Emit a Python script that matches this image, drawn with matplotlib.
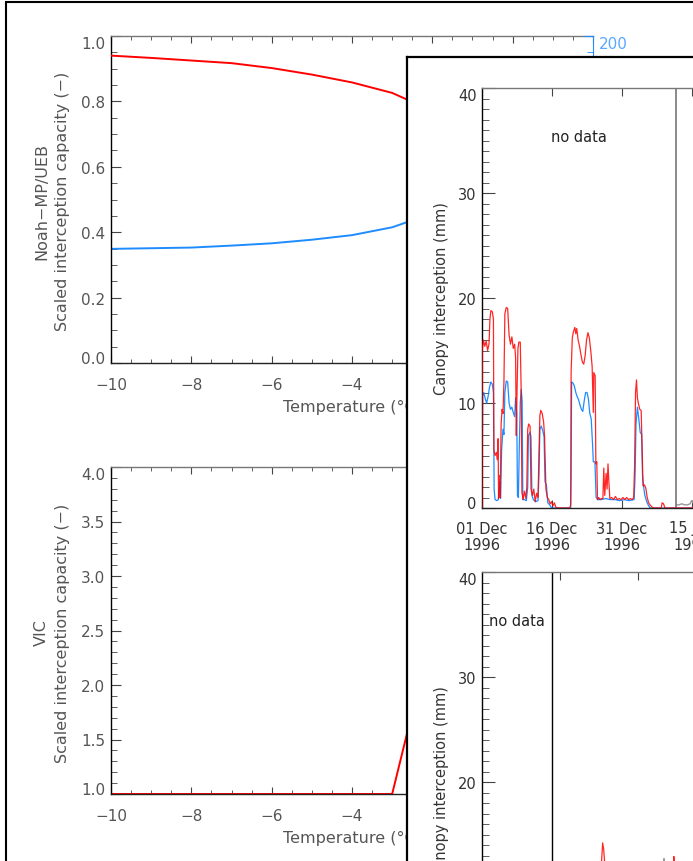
import numpy as np
import matplotlib
matplotlib.use("Agg")
import matplotlib.pyplot as plt
from matplotlib.ticker import MultipleLocator, FixedLocator
from matplotlib.patches import Rectangle

# ---------------- data ----------------
# Scaled interception capacity vs air temperature
temp_c = [-10, -9, -8, -7, -6, -5, -4, -3, -2.6, -2]
noahmp_scale = [0.940, 0.933, 0.925, 0.917, 0.902, 0.882, 0.858, 0.826, 0.804, 0.77]
ueb_scale = [0.349, 0.351, 0.353, 0.359, 0.366, 0.377, 0.391, 0.415, 0.432, 0.46]

vic_temp_c = [-10, -3, -2]
vic_scale = [1.0, 1.0, 2.5]

# Canopy interception, winter 1996/97 (days after 01 Dec 1996, mm)
red_days = [0.0, 0.05, 0.3, 0.6, 0.9, 1.2, 1.5, 1.7, 1.9, 2.2, 2.45, 2.55, 2.8, 3.1, 3.3,
            3.45, 3.55, 3.75, 3.9, 4.1, 4.3, 4.5, 4.7, 4.9, 5.2, 5.5, 5.8, 6.1, 6.4, 6.7,
            7.0, 7.2, 7.35, 7.5, 7.7, 7.9, 8.2, 8.4, 8.55, 8.8, 9.1, 9.4, 9.6, 9.8, 10.0,
            10.3, 10.5, 10.8, 11.1, 11.4, 11.7, 12.0, 12.2, 12.4, 12.6, 12.9, 13.2, 13.4,
            13.7, 14.0, 14.3, 14.6, 14.9, 15.2, 15.5, 15.8, 16.1, 18.8, 19.0, 19.1, 19.35,
            19.6, 19.9, 20.1, 20.3, 20.6, 20.9, 21.2, 21.5, 21.8, 22.1, 22.4, 22.7, 23.0,
            23.3, 23.6, 23.85, 23.95, 24.25, 24.4, 24.6, 24.75, 25.0, 25.3, 25.6, 25.9,
            26.1, 26.3, 26.6, 26.8, 27.0, 27.2, 27.4, 27.8, 28.2, 28.6, 29.0, 29.4, 29.8,
            30.2, 30.6, 31.0, 31.4, 31.8, 32.2, 32.5, 32.7, 32.9, 33.1, 33.3, 33.5, 33.8,
            34.1, 34.3, 34.5, 34.8, 35.1, 35.4, 35.7, 36.0, 36.4, 36.8, 38.4, 38.6, 38.9,
            39.2, 46.0]
noahmp_mm = [0.0, 15.0, 16.0, 15.4, 15.9, 15.0, 15.6, 18.0, 18.8, 18.7, 18.0, 5.5, 5.0, 5.3, 4.6,
             6.6, 0.9, 3.1, 1.0, 8.0, 9.4, 9.0, 12.0, 18.5, 19.1, 19.0, 16.5, 15.6, 16.3, 15.2,
             15.6, 14.3, 6.9, 11.0, 15.2, 15.8, 15.8, 11.0, 1.5, 0.8, 1.6, 0.9, 2.0, 7.5, 8.0,
             7.8, 1.8, 1.2, 1.8, 0.6, 1.4, 1.0, 5.0, 8.8, 9.3, 9.0, 8.2, 6.9,
             1.8, 1.0, 0.8, 0.4, 0.6, 0.2, 0.5, 0.1, 0.0, 0.0, 0.3, 13.0, 16.2,
             16.8, 17.2, 16.6, 17.1, 16.0, 15.4, 14.6, 13.9, 13.7, 14.5, 16.0, 16.7, 16.2,
             15.0, 13.5, 9.1, 12.9, 12.6, 4.2, 4.4, 0.8, 1.0, 0.8, 0.9, 0.9,
             3.8, 1.2, 3.3, 1.8, 4.2, 2.4, 0.9, 1.0, 0.8, 1.1, 0.8, 0.9, 0.8,
             1.0, 0.8, 1.0, 0.8, 0.9, 0.8, 1.0, 4.0, 11.0, 12.2, 10.5, 10.0, 9.4,
             9.3, 6.0, 2.1, 2.2, 1.9, 1.0, 0.5, 0.3, 0.1, 0.0, 0.0, 0.5, 0.4,
             0.0, 0.0]

blue_days = [0.0, 0.05, 0.15, 0.4, 0.7, 1.0, 1.3, 1.6, 1.9, 2.2, 2.45, 2.6, 2.8, 3.2, 3.5,
             3.8, 4.0, 4.2, 4.5, 4.7, 4.9, 5.2, 5.5, 5.8, 6.1, 6.4, 6.7, 7.0, 7.2, 7.45,
             7.6, 7.8, 8.0, 8.2, 8.4, 8.6, 8.75, 9.1, 9.5, 9.8, 9.95, 10.3, 10.5, 10.7,
             11.0, 11.5, 12.0, 12.2, 12.4, 12.7, 13.0, 13.3, 13.5, 13.8, 14.1, 14.5, 14.9,
             19.0, 19.1, 19.2, 19.5, 19.8, 20.1, 20.4, 20.7, 21.0, 21.3, 21.6, 21.9, 22.2,
             22.5, 22.8, 23.1, 23.4, 23.7, 23.85, 24.2, 24.45, 24.8, 25.5, 26.5, 27.5,
             28.5, 29.5, 30.5, 31.5, 32.6, 32.8, 33.0, 33.3, 33.6, 33.9, 34.2, 34.4, 34.7,
             34.9, 35.3, 35.6, 36.0, 46.0]
ueb_mm = [0.0, 5.0, 10.7, 11.0, 10.4, 10.0, 10.6, 11.5, 12.0, 11.8, 11.0, 1.8, 0.8, 0.7, 0.8,
          2.5, 0.9, 5.5, 7.5, 7.0, 11.0, 12.1, 12.0, 10.0, 9.4, 9.6, 9.1, 8.7, 10.5, 9.0,
          1.2, 1.0, 6.0, 10.0, 11.3, 10.2, 0.8, 0.8, 0.7, 2.0, 6.9, 7.2, 6.8, 1.2,
          0.8, 0.6, 0.7, 3.0, 7.5, 7.8, 7.4, 6.8, 2.5, 2.2, 0.5, 0.3, 0.0,
          0.0, 3.0, 12.0, 11.9, 11.6, 11.0, 10.6, 10.3, 9.8, 9.4, 9.2, 10.2, 11.0,
          11.0, 10.4, 9.0, 8.5, 6.0, 4.4, 4.4, 1.0, 0.8, 0.8, 0.9, 0.8,
          0.8, 0.7, 0.8, 0.7, 0.8, 3.0, 8.0, 9.6, 8.5, 7.2, 7.0, 3.1, 1.8,
          1.2, 0.6, 0.3, 0.0, 0.0]

obs_days = [41.7, 42.2, 42.8, 43.4, 44.0, 44.6, 44.9, 45.2, 46.0]
obs_mm = [0.3, 0.3, 0.4, 0.3, 0.3, 0.4, 0.7, 0.5, 0.4]
obs_start_day = 41.6

top_ticks = ['1996-12-01', '1996-12-16', '1996-12-31', '1997-01-15',
             '1997-01-30', '1997-02-14', '1997-03-01']
top_labels = ['01 Dec\n1996', '16 Dec\n1996', '31 Dec\n1996', '15 Jan\n1997',
              '30 Jan\n1997', '14 Feb\n1997', '01 Mar\n1997']

# Canopy interception, winter 1997/98 (days after 16 Nov 1997, mm)
low_red_days = [13.6, 22.7, 23.0, 23.2, 23.4, 23.6, 24.0, 36.6, 36.9, 37.1, 38.0]
low_red_mm = [0.0, 6.0, 12.5, 14.2, 13.6, 12.2, 5.0, 8.0, 12.9, 9.0, 0.0]
low_obs_days = [34.6, 35.0, 35.3]
low_obs_mm = [8.0, 12.7, 8.0]
low_obs_start_day = 13.5

low_ticks = ['1997-12-01', '1997-12-16', '1997-12-31', '1998-01-15',
             '1998-01-30', '1998-02-14', '1998-03-01']
low_labels = ['01 Dec\n1997', '16 Dec\n1997', '31 Dec\n1997', '15 Jan\n1998',
              '30 Jan\n1998', '14 Feb\n1998', '01 Mar\n1998']

# ---------------- figure ----------------
W, H = 693, 862
plt.rcParams['font.family'] = ['DejaVu Sans']
fig = plt.figure(figsize=(W / 100, H / 100), dpi=100)


def box(l, t, r, b):
    return [l / W, 1 - b / H, (r - l) / W, (b - t) / H]


def to_dates(start, days):
    mins = np.round(np.asarray(days, dtype=float) * 24 * 60).astype('timedelta64[m]')
    return np.datetime64(start) + mins


RED = '#ff0000'
BLUE = '#1e8cff'
GREY_TXT = '#555555'
LABEL_SIZE = 11.5

fig.add_artist(Rectangle((6 / W, -0.2), 2.0, 1.2 - 3 / H, transform=fig.transFigure,
                         fill=False, edgecolor='black', linewidth=1.5, zorder=0))


def idl_style(ax, xmaj, ymaj, lab_color, size):
    ax.spines['left'].set_color('black')
    ax.spines['bottom'].set_color('#222222')
    ax.spines['top'].set_color('#777777')
    ax.spines['right'].set_color('#777777')
    for s in ax.spines.values():
        s.set_linewidth(1.0)
    ax.tick_params(which='both', direction='in', top=True, right=False,
                   color='#444444', labelcolor=lab_color, labelsize=size)
    ax.tick_params(axis='x', which='major', length=xmaj[0], pad=xmaj[1])
    ax.tick_params(axis='x', which='minor', length=xmaj[2])
    ax.tick_params(axis='y', which='major', length=ymaj[0], pad=ymaj[1])
    ax.tick_params(axis='y', which='minor', length=ymaj[2])


def edge_labels(ax):
    labs = ax.yaxis.get_major_ticks()
    labs[0].label1.set_va('baseline')
    labs[-1].label1.set_va('top')


def minus_fmt(v, p):
    return f'{v:.0f}'.replace('-', '\u2212')


# --- upper left: Noah-MP / UEB ---
ax1 = fig.add_axes(box(111, 37, 593, 364), zorder=1)
ax1.plot(temp_c, noahmp_scale, color=RED, lw=1.4, zorder=3)
ax1.plot(temp_c, ueb_scale, color=BLUE, lw=1.4, zorder=2)
ax1.set_xlim(-10, 2)
ax1.set_ylim(0, 1)
ax1.xaxis.set_major_locator(MultipleLocator(2))
ax1.xaxis.set_minor_locator(MultipleLocator(0.5))
ax1.yaxis.set_major_locator(FixedLocator([0, 0.2, 0.4, 0.6, 0.8, 1.0]))
ax1.yaxis.set_minor_locator(MultipleLocator(0.05))
ax1.yaxis.set_major_formatter(matplotlib.ticker.FormatStrFormatter('%.1f'))
ax1.xaxis.set_major_formatter(matplotlib.ticker.FuncFormatter(minus_fmt))
idl_style(ax1, (5, 10, 3), (7, 4, 4), GREY_TXT, 11)
ax1.spines['right'].set_visible(False)
edge_labels(ax1)
ax1b = ax1.twinx()
ax1b.set_ylim(0, 200)
ax1b.yaxis.set_major_locator(FixedLocator([0, 50, 100, 150, 200]))
ax1b.yaxis.set_minor_locator(MultipleLocator(10))
ax1b.spines['right'].set_color(BLUE)
for s in ['left', 'top', 'bottom']:
    ax1b.spines[s].set_visible(False)
ax1b.tick_params(which='both', direction='in', color=BLUE, labelcolor='#5aa8ff', labelsize=11)
ax1b.tick_params(which='major', length=7, pad=4)
ax1b.tick_params(which='minor', length=4)
ax1b.yaxis.get_major_ticks()[-1].label2.set_va('top')
fig.text(52 / W, 1 - 201 / H, 'Noah\u2212MP/UEB\nScaled interception capacity (\u2212)',
         rotation=90, ha='center', va='center', multialignment='center',
         fontsize=LABEL_SIZE, color=GREY_TXT, linespacing=1.45)
fig.text(352 / W, 1 - 407 / H, 'Temperature (\u00b0C)', ha='center', va='center',
         fontsize=LABEL_SIZE, color=GREY_TXT)

# --- lower left: VIC ---
ax2 = fig.add_axes(box(111, 468, 593, 795), zorder=1)
ax2.plot(vic_temp_c, vic_scale, color=RED, lw=1.4)
ax2.set_xlim(-10, 2)
ax2.set_ylim(1, 4)
ax2.xaxis.set_major_locator(MultipleLocator(2))
ax2.xaxis.set_minor_locator(MultipleLocator(0.5))
ax2.yaxis.set_major_locator(FixedLocator([1.0, 1.5, 2.0, 2.5, 3.0, 3.5, 4.0]))
ax2.yaxis.set_minor_locator(MultipleLocator(0.1))
ax2.yaxis.set_major_formatter(matplotlib.ticker.FormatStrFormatter('%.1f'))
ax2.xaxis.set_major_formatter(matplotlib.ticker.FuncFormatter(minus_fmt))
idl_style(ax2, (5, 10, 3), (7, 4, 4), GREY_TXT, 11)
edge_labels(ax2)
fig.text(52 / W, 1 - 633 / H, 'VIC\nScaled interception capacity (\u2212)',
         rotation=90, ha='center', va='center', multialignment='center',
         fontsize=LABEL_SIZE, color=GREY_TXT, linespacing=1.45)
fig.text(352 / W, 1 - 838 / H, 'Temperature (\u00b0C)', ha='center', va='center',
         fontsize=LABEL_SIZE, color=GREY_TXT)

# --- overlaid canopy interception figure ---
frame = fig.add_axes(box(407, 58, 760, 960), zorder=5)
frame.set_facecolor('white')
frame.set_xticks([])
frame.set_yticks([])
for s in frame.spines.values():
    s.set_linewidth(1.6)
    s.set_color('black')

INK = '#333333'


def canopy_axes(rect, start, end, ticks, labels):
    ax = fig.add_axes(rect, zorder=6)
    ax.set_facecolor('none')
    ax.set_xlim(np.datetime64(start), np.datetime64(end))
    ax.set_ylim(0, 40)
    ax.set_xticks([np.datetime64(t) for t in ticks])
    ax.set_xticklabels(labels, linespacing=1.1)
    ax.yaxis.set_major_locator(FixedLocator([0, 10, 20, 30, 40]))
    ax.yaxis.set_minor_locator(MultipleLocator(1))
    idl_style(ax, (6, 9, 3), (9.5, 4, 5), INK, 10.5)
    ax.tick_params(axis='x', which='minor', bottom=False, top=False)
    edge_labels(ax)
    ax.set_ylabel('Canopy interception (mm)', fontsize=10.5, color=INK, labelpad=6)
    return ax


ax3 = canopy_axes(box(482, 89, 902, 509), '1996-12-01', '1997-03-01', top_ticks, top_labels)
ax3.plot(to_dates('1996-12-01', blue_days), ueb_mm, color=BLUE, lw=0.9, zorder=2)
ax3.plot(to_dates('1996-12-01', red_days), noahmp_mm, color=RED, lw=0.9, alpha=0.85, zorder=3)
ax3.plot(to_dates('1996-12-01', obs_days), obs_mm, color='#999999', lw=1.0, zorder=2)
line3 = to_dates('1996-12-01', [obs_start_day])[0]
ax3.axvline(line3, color='#777777', lw=1.2)
ax3.text(to_dates('1996-12-01', [obs_start_day / 2])[0], 35.4, 'no data',
         ha='center', va='center', fontsize=10.5, color='#222222')

ax4 = canopy_axes(box(482, 573, 1028, 993), '1997-11-16', '1998-03-01', low_ticks, low_labels)
ax4.plot(to_dates('1997-11-16', low_obs_days), low_obs_mm, color='#999999', lw=1.0, zorder=2)
ax4.plot(to_dates('1997-11-16', low_red_days), low_red_mm, color=RED, lw=0.9, alpha=0.85, zorder=3)
line4 = to_dates('1997-11-16', [low_obs_start_day])[0]
ax4.axvline(line4, color='black', lw=1.0)
ax4.text(to_dates('1997-11-16', [low_obs_start_day / 2])[0], 35.4, 'no data',
         ha='center', va='center', fontsize=10.5, color='#222222')

fig.savefig('out.png', dpi=100)
